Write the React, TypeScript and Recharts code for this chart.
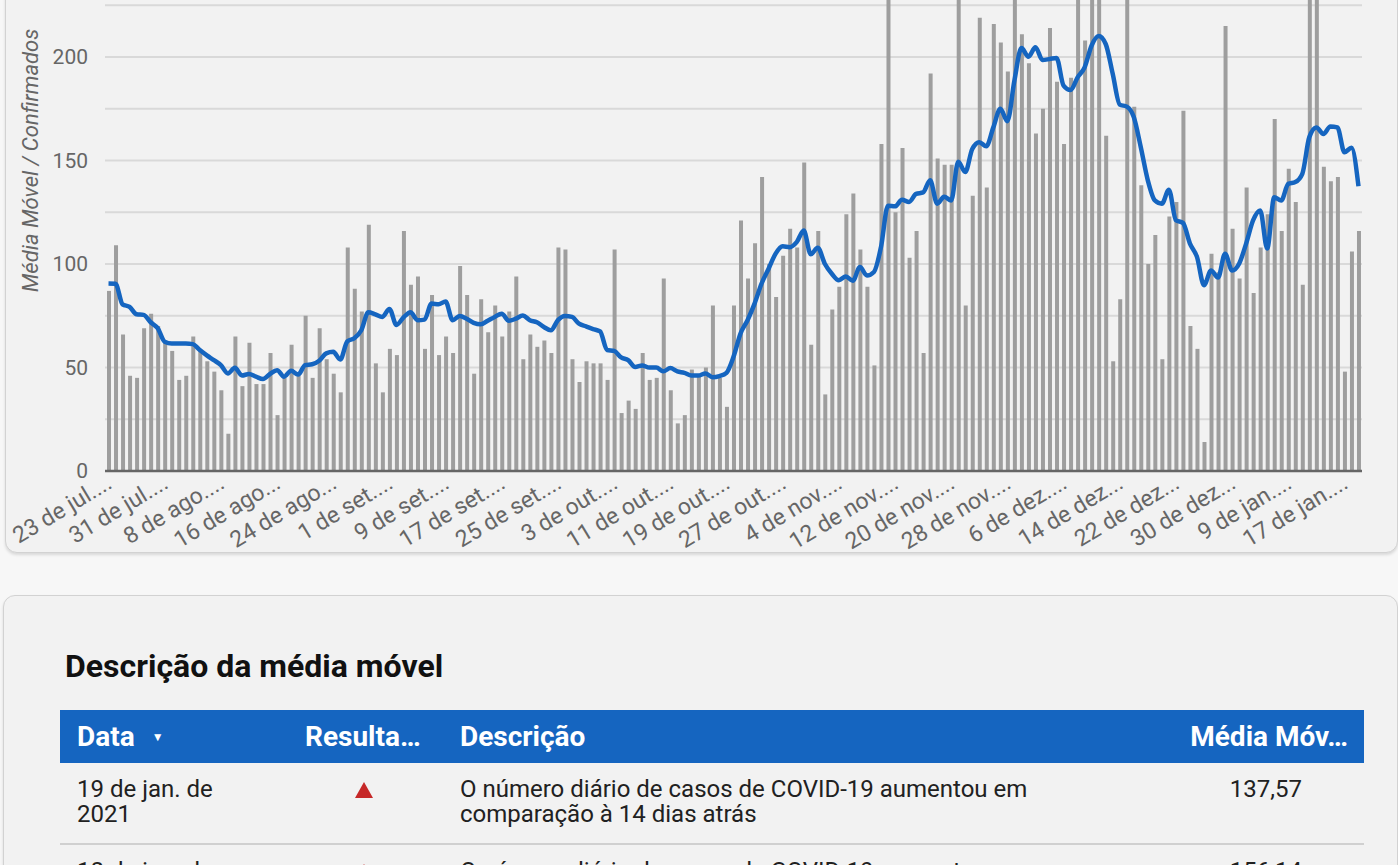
import React from 'react';
import { ComposedChart, Bar, Line, XAxis, YAxis, CartesianGrid, Label } from 'recharts';

// dias com casos confirmados (01 e 02 de jan. ficaram sem registro)
const START_DATE = '2020-07-23';
const SKIPPED_DAYS = ['2021-01-01', '2021-01-02'];
const MONTHS = ['jan.', 'fev.', 'mar.', 'abr.', 'mai.', 'jun.', 'jul.', 'ago.', 'set.', 'out.', 'nov.', 'dez.'];

const CASES = [
  87, 109, 66, 46, 45, 69, 76, 70, 62, 58, 44, 46, 65, 58, 53, 48, 39, 18, 65, 41,
  62, 42, 42, 57, 27, 45, 61, 46, 75, 45, 69, 54, 47, 38, 108, 88, 77, 119, 52, 38,
  59, 56, 116, 90, 94, 59, 85, 56, 65, 57, 99, 85, 47, 83, 67, 80, 65, 77, 94, 54,
  66, 60, 63, 57, 108, 107, 54, 43, 53, 52, 52, 44, 107, 28, 34, 30, 57, 44, 45, 93,
  39, 23, 27, 49, 46, 50, 80, 45, 31, 80, 121, 93, 110, 142, 100, 84, 104, 117, 108, 149,
  61, 116, 37, 78, 89, 124, 134, 107, 89, 51, 158, 270, 125, 156, 103, 116, 57, 192, 151, 148,
  148, 255, 80, 133, 219, 137, 216, 207, 193, 262, 211, 197, 163, 175, 214, 188, 158, 190, 245, 208,
  240, 250, 162, 53, 83, 235, 176, 138, 100, 114, 54, 123, 130, 174, 70, 59, 14, 105, 96, 215,
  117, 93, 137, 86, 108, 124, 170, 116, 146, 130, 90, 280, 240, 147, 140, 142, 48, 106, 116,
];

const MOVING_AVG = [
  90.57, 90.43, 80.5, 79.29, 75.71, 75.43, 71.86, 69.0, 62.43, 61.57, 61.57, 61.57, 61.29, 58.43, 55.86, 53.57, 51.14, 47.14, 49.86, 46.14,
  46.86, 45.57, 44.43, 46.86, 48.71, 45.57, 48.43, 46.57, 51.14, 51.57, 53.29, 56.86, 57.57, 53.86, 62.57, 64.14, 68.0, 76.71, 75.71, 74.43,
  78.29, 70.57, 74.14, 76.71, 72.86, 73.14, 80.86, 80.57, 81.86, 72.86, 74.86, 73.57, 71.57, 70.86, 72.57, 74.43, 76.0, 72.57, 73.57, 75.14,
  72.86, 71.86, 69.57, 68.0, 72.86, 74.86, 74.43, 71.14, 69.86, 68.57, 67.43, 58.43, 58.0, 54.86, 53.57, 50.29, 51.0, 50.0, 50.0, 48.14,
  49.71, 48.14, 47.43, 46.14, 46.14, 47.14, 45.29, 45.86, 47.43, 55.14, 66.43, 72.86, 80.86, 90.57, 97.71, 105.0, 108.57, 108.14, 110.57, 116.14,
  104.71, 107.86, 100.14, 95.29, 92.14, 94.0, 91.86, 98.57, 94.43, 96.14, 108.14, 128.14, 127.86, 131.0, 130.0, 133.86, 134.57, 140.43, 129.14, 132.43,
  130.71, 149.43, 144.43, 155.57, 158.86, 156.86, 166.0, 175.0, 169.0, 188.57, 204.29, 200.14, 204.71, 198.57, 199.0, 199.57, 186.14, 184.0, 190.14, 195.0,
  205.57, 210.14, 206.29, 191.86, 177.0, 176.0, 171.0, 156.43, 140.43, 130.71, 129.14, 135.86, 121.14, 119.86, 109.86, 103.43, 89.71, 96.86, 93.43, 105.0,
  96.86, 100.14, 109.86, 121.14, 125.86, 107.43, 132.29, 130.71, 138.71, 139.57, 143.57, 161.29, 166.0, 162.86, 166.43, 166.0, 154.0, 156.14, 137.57,
];

const TICK_LABELS = [
  '23 de jul....', '31 de jul....', '8 de ago....', '16 de ago...', '24 de ago...', '1 de set....',
  '9 de set....', '17 de set....', '25 de set....', '3 de out....', '11 de out....', '19 de out....',
  '27 de out....', '4 de nov....', '12 de nov....', '20 de nov....', '28 de nov....', '6 de dez....',
  '14 de dez...', '22 de dez...', '30 de dez...', '9 de jan....', '17 de jan....',
];

const Y_TICKS = [0, 25, 50, 75, 100, 125, 150, 175, 200, 225, 250, 275, 300];

const TABLE_HEADERS = ['Data', 'Resulta…', 'Descrição', 'Média Móv…'];
const TABLE_ROWS = [
  { date: ['19 de jan. de', '2021'], text: ['O número diário de casos de COVID-19 aumentou em', 'comparação à 14 dias atrás'], value: '137,57' },
  { date: ['18 de jan. de', '2021'], text: ['O número diário de casos de COVID-19 aumentou em', 'comparação à 14 dias atrás'], value: '156,14' },
];

function buildDates(count: number) {
  const out: string[] = [];
  const d = new Date(START_DATE + 'T12:00:00Z');
  while (out.length < count) {
    const iso = d.toISOString().slice(0, 10);
    if (!SKIPPED_DAYS.includes(iso)) {
      out.push(`${d.getUTCDate()} de ${MONTHS[d.getUTCMonth()]} de ${d.getUTCFullYear()}`);
    }
    d.setUTCDate(d.getUTCDate() + 1);
  }
  return out;
}

const DATES = buildDates(CASES.length);
const data = DATES.map((date, i) => ({ date, confirmados: CASES[i], media: MOVING_AVG[i] }));
const TICK_DATES = DATES.filter((_, i) => i % 8 === 0);

const FONT = 'Roboto, "Noto Sans", sans-serif';
const BLUE = '#1565c0';

function DateTick(props: any) {
  const { x, y, payload } = props;
  const idx = TICK_DATES.indexOf(payload.value);
  if (idx < 0) return null;
  const tx = x + 5;
  const ty = y + 8;
  return (
    <text x={tx} y={ty} textAnchor="end" transform={`rotate(-31 ${tx} ${ty})`} fill="#666" fontSize={23} fontFamily={FONT}>
      {TICK_LABELS[idx]}
    </text>
  );
}

function AxisTitle(props: any) {
  const { viewBox } = props;
  const cx = 38;
  const cy = viewBox.y + viewBox.height / 2;
  return (
    <text x={cx} y={cy} transform={`rotate(-90 ${cx} ${cy})`} textAnchor="middle" fill="#666" fontSize={22} fontStyle="italic" fontFamily={FONT}>
      Média Móvel / Confirmados
    </text>
  );
}

const card: React.CSSProperties = {
  position: 'absolute',
  background: '#f2f2f2',
  borderRadius: 12,
  border: '1px solid #d2d2d2',
  boxShadow: '0 2px 3px rgba(0,0,0,0.12)',
};

function cellText(lines: string[], style: React.CSSProperties) {
  return (
    <div style={{ position: 'absolute', fontSize: 24, lineHeight: '25px', color: '#212121', whiteSpace: 'nowrap', ...style }}>
      {lines.map((l, i) => <div key={i}>{l}</div>)}
    </div>
  );
}

export default function App() {
  return (
    <div style={{ position: 'fixed', inset: 0, background: '#f7f7f7', overflow: 'hidden', fontFamily: FONT }}>
      <div style={{ ...card, left: 5, top: -210, width: 1391, height: 761 }} />
      <div style={{ position: 'absolute', left: 0, top: -170 }}>
        <ComposedChart width={1398} height={761} data={data} margin={{ top: 20, right: 36, bottom: 0, left: 0 }} barSize={4}>
          <CartesianGrid vertical={false} stroke="#d9d9d9" strokeWidth={2} />
          <XAxis
            dataKey="date"
            ticks={TICK_DATES}
            interval={0}
            height={120}
            tickLine={false}
            axisLine={{ stroke: '#666', strokeWidth: 2.5 }}
            tick={<DateTick />}
          />
          <YAxis
            width={105}
            domain={[0, 300]}
            ticks={Y_TICKS}
            interval={0}
            axisLine={false}
            tickLine={false}
            tickMargin={11}
            tick={{ fill: '#666', fontSize: 21, fontFamily: FONT }}
            tickFormatter={(v: number) => (v % 50 === 0 && v <= 200 ? String(v) : '')}
          >
            <Label content={<AxisTitle />} />
          </YAxis>
          <Bar dataKey="confirmados" fill="#9e9e9e" isAnimationActive={false} />
          <Line dataKey="media" type="monotone" stroke={BLUE} strokeWidth={4.5} dot={false} activeDot={false} isAnimationActive={false} />
        </ComposedChart>
      </div>

      <div style={{ ...card, left: 3, top: 595, width: 1393, height: 400 }} />
      <div style={{ position: 'absolute', left: 65, top: 650, fontSize: 32, lineHeight: '32px', fontWeight: 700, color: '#111' }}>
        Descrição da média móvel
      </div>

      <div style={{ position: 'absolute', left: 60, top: 710, width: 1304, height: 53, background: BLUE, color: '#fff', fontSize: 28, fontWeight: 700, lineHeight: '28px' }}>
        <div style={{ position: 'absolute', left: 17, top: 12.5, display: 'flex', alignItems: 'center' }}>
          {TABLE_HEADERS[0]}
          <span style={{ fontSize: 12, marginLeft: 17, lineHeight: '12px' }}>▼</span>
        </div>
        <div style={{ position: 'absolute', left: 245, top: 12.5 }}>{TABLE_HEADERS[1]}</div>
        <div style={{ position: 'absolute', left: 400, top: 12.5 }}>{TABLE_HEADERS[2]}</div>
        <div style={{ position: 'absolute', right: 16, top: 12.5 }}>{TABLE_HEADERS[3]}</div>
      </div>

      {TABLE_ROWS.map((row, i) => {
        const top = 777 + i * 82;
        return (
          <React.Fragment key={i}>
            {cellText(row.date, { left: 77, top })}
            <svg style={{ position: 'absolute', left: 355, top: top + 5 }} width={18} height={16}>
              <polygon points="9,0 18,16 0,16" fill="#c62828" />
            </svg>
            {cellText(row.text, { left: 460, top })}
            {cellText([row.value], { right: 1398 - 1302, top })}
            {i === 0 && <div style={{ position: 'absolute', left: 60, top: top + 66, width: 1304, height: 2, background: '#d0d0d0' }} />}
          </React.Fragment>
        );
      })}
    </div>
  );
}
